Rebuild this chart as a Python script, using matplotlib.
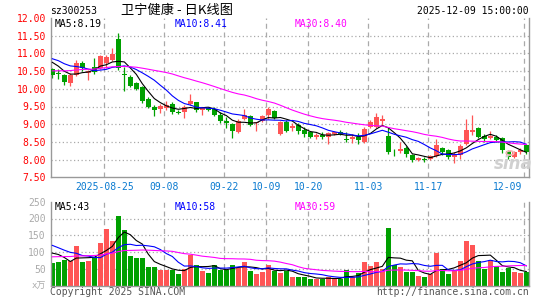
import numpy as np
import pandas as pd
import matplotlib
matplotlib.use("Agg")
import matplotlib.pyplot as plt
import matplotlib.transforms as mtransforms

# --- DATA (80 sessions 2025-08-12 .. 2025-12-09) ---
opens = [10.56, 10.45, 10.39, 10.15, 10.39, 10.72, 10.46, 10.62, 10.58, 10.72,
         10.81, 11.42, 10.42, 10.34, 10.15, 10.06, 9.71, 9.50, 9.44, 9.47,
         9.58, 9.35, 9.34, 9.56, 9.62, 9.39, 9.46, 9.43, 9.26, 9.08,
         9.00, 8.77, 9.15, 9.22, 9.04, 9.10, 9.26, 9.36, 8.71, 9.06,
         8.89, 8.98, 8.84, 8.77, 8.65, 8.70, 8.63, 8.73, 8.79, 8.59,
         8.58, 8.65, 8.49, 8.92, 8.92, 9.10, 8.68, 8.20, 8.23, 8.32,
         8.14, 8.00, 8.03, 8.03, 8.10, 8.33, 8.26, 8.08, 8.12, 8.45,
         8.78, 8.88, 8.67, 8.62, 8.64, 8.60, 8.24, 8.08, 8.22, 8.40]
highs = [10.60, 10.57, 10.42, 10.44, 10.80, 10.78, 10.53, 10.86, 10.95, 10.95,
         11.14, 11.59, 10.62, 10.38, 10.20, 10.09, 9.78, 9.55, 9.56, 9.66,
         9.62, 9.40, 9.53, 9.86, 9.64, 9.49, 9.50, 9.48, 9.34, 9.20,
         9.02, 9.15, 9.42, 9.25, 9.07, 9.25, 9.50, 9.41, 9.10, 9.11,
         9.03, 9.03, 8.91, 8.82, 8.74, 8.77, 8.79, 8.80, 8.84, 8.77,
         8.73, 8.74, 8.92, 9.12, 9.31, 9.27, 8.91, 8.30, 8.50, 8.38,
         8.17, 8.08, 8.08, 8.13, 8.59, 8.36, 8.29, 8.21, 8.43, 9.14,
         9.27, 8.93, 8.71, 8.80, 8.69, 8.65, 8.27, 8.25, 8.33, 8.45]
lows = [10.31, 10.29, 10.10, 10.07, 10.35, 10.50, 10.25, 10.43, 10.55, 10.58,
        10.78, 10.53, 9.93, 10.05, 9.97, 9.59, 9.46, 9.24, 9.31, 9.40,
        9.30, 9.28, 9.17, 9.53, 9.34, 9.25, 9.37, 9.22, 9.04, 8.89,
        8.60, 8.75, 9.12, 8.96, 8.82, 9.05, 9.15, 9.15, 8.69, 8.78,
        8.82, 8.73, 8.63, 8.61, 8.59, 8.59, 8.44, 8.70, 8.70, 8.49,
        8.47, 8.45, 8.47, 8.90, 8.90, 8.99, 8.16, 8.11, 8.20, 8.08,
        7.93, 7.97, 7.93, 7.98, 8.07, 8.13, 8.03, 7.89, 8.03, 8.40,
        8.70, 8.60, 8.50, 8.58, 8.50, 8.20, 8.03, 8.04, 8.15, 8.17]
closes = [10.39, 10.41, 10.18, 10.39, 10.72, 10.58, 10.50, 10.48, 10.93, 10.91,
          10.97, 10.59, 10.40, 10.08, 10.00, 9.65, 9.50, 9.39, 9.51, 9.55,
          9.34, 9.32, 9.50, 9.65, 9.41, 9.45, 9.39, 9.26, 9.08, 9.04,
          8.80, 9.10, 9.25, 8.98, 9.06, 9.22, 9.43, 9.18, 9.06, 8.82,
          8.96, 8.82, 8.71, 8.65, 8.70, 8.63, 8.75, 8.77, 8.73, 8.56,
          8.65, 8.54, 8.87, 9.06, 9.20, 9.15, 8.21, 8.18, 8.29, 8.16,
          7.98, 8.05, 7.98, 8.10, 8.40, 8.22, 8.08, 8.14, 8.39, 8.83,
          8.83, 8.64, 8.59, 8.68, 8.56, 8.26, 8.07, 8.21, 8.28, 8.21]
volumes = [69, 72, 77, 75, 118, 72, 75, 82, 127, 168,
           133, 206, 165, 87, 81, 81, 55, 55, 46, 48,
           46, 35, 50, 92, 62, 44, 38, 62, 48, 46,
           63, 53, 72, 45, 36, 42, 63, 45, 38, 45,
           25, 25, 25, 19, 21, 21, 25, 21, 21, 46,
           25, 38, 70, 60, 70, 50, 171, 63, 56, 40,
           40, 28, 25, 35, 97, 51, 35, 48, 73, 134,
           120, 73, 51, 77, 58, 40, 53, 40, 38, 40]

# sessions before the window, estimated so the MA lines start where the chart shows them
prior_close = [10.30, 10.25, 10.20, 10.15, 10.20, 10.30, 10.35, 10.30, 10.25, 10.30,
               10.40, 10.35, 10.30, 10.40, 10.45, 10.40, 10.35, 10.40, 10.50, 10.55,
               10.95, 11.05, 11.00, 10.90, 10.85, 10.95, 10.90, 10.80, 10.70]
prior_volume = [60, 65, 75, 70, 62, 58, 66, 80, 72, 68,
                64, 70, 75, 66, 62, 70, 78, 72, 68, 79,
                142, 150, 140, 145, 138, 92, 122, 135, 67]

date_labels = ["2025-08-25", "09-08", "09-22", "10-09", "10-20", "11-03", "11-17", "12-09"]
date_index = [9, 19, 29, 36, 43, 53, 63, 79]

price_ticks = [7.5, 8.0, 8.5, 9.0, 9.5, 10.0, 10.5, 11.0, 11.5, 12.0]
vol_ticks = [50, 100, 150, 200, 250]

stock_code = "sz300253"
title = "卫宁健康 - 日K线图"
stamp = "2025-12-09 15:00:00"
price_ma_text = ["MA5:8.19", "MA10:8.41", "MA30:8.40"]
vol_ma_text = ["MA5:43", "MA10:58", "MA30:59"]

# --- STYLE ---
UP = "#ff5555"
DOWN = "#00a000"
MA_COLORS = ["black", "#0000ff", "#ff00ff"]
GRID = "#aaaaaa"
BORDER = "#999999"
MONO = "DejaVu Sans Mono"
W, H = 545, 300

plt.rcParams["font.family"] = [MONO, "Noto Sans CJK SC"]

n = len(closes)
x = np.arange(n)
o = np.array(opens)
c = np.array(closes)
up = c >= o
colors = np.where(up, UP, DOWN)

all_close = pd.Series(prior_close + closes)
all_vol = pd.Series(prior_volume + volumes)
price_ma = [all_close.rolling(k).mean().values[-n:] for k in (5, 10, 30)]
vol_ma = [all_vol.rolling(k).mean().values[-n:] for k in (5, 10, 30)]

fig = plt.figure(figsize=(W / 100, H / 100), dpi=100)
fig.patch.set_facecolor("white")

left, right = 50.7, 529.0
ax_k = fig.add_axes([left / W, 1 - 177.3 / H, (right - left) / W, (177.3 - 18) / H])
ax_v = fig.add_axes([left / W, 1 - 285.7 / H, (right - left) / W, (285.7 - 201.7) / H])

xlim = (-0.27, 79.45)
grid_x = [i - 0.33 for i in date_index]

for ax in (ax_k, ax_v):
    ax.set_xlim(*xlim)
    ax.set_facecolor("white")
    ax.spines["top"].set_visible(False)
    for s in ("left", "bottom", "right"):
        ax.spines[s].set_color(BORDER)
        ax.spines[s].set_linewidth(1.0)
    ax.set_xticks([])
    ax.tick_params(axis="y", length=0, pad=3.5)
    for gx in grid_x:
        ax.axvline(gx, color=GRID, lw=0.9, dashes=(4, 3), zorder=0)

# --- candlesticks ---
body_bottom = np.minimum(o, c)
body_h = np.maximum(np.abs(c - o), 0.012)
ax_k.vlines(x, lows, highs, colors=colors, lw=0.9, zorder=2)
ax_k.bar(x, body_h, bottom=body_bottom, width=0.75, color=colors, linewidth=0, zorder=3)
for ma, col in zip(price_ma, MA_COLORS):
    ax_k.plot(x, ma, color=col, lw=0.8, zorder=4)

ax_k.set_ylim(7.5, 12.0)
ax_k.set_yticks(price_ticks)
ax_k.set_yticklabels([f"{t:.2f}" for t in price_ticks], color="#ff0000", fontsize=7, family=MONO)
for t in price_ticks[1:-1]:
    ax_k.axhline(t, color=GRID, lw=0.9, linestyle=(0, (1, 2)), zorder=0)

trans = mtransforms.blended_transform_factory(ax_k.transData, ax_k.transAxes)
for gx, lab in zip(grid_x, date_labels):
    ha = "center"
    xx = gx
    if lab == date_labels[-1]:
        ha = "right"
        xx = 78.4
    ax_k.text(xx, -0.062, lab, transform=trans, ha=ha, va="center",
              color="#0a7ad0", fontsize=7, family=MONO)

# --- volume ---
ax_v.bar(x, volumes, width=0.88, color=colors, linewidth=0, zorder=2)
for ma, col in zip(vol_ma, MA_COLORS):
    ax_v.plot(x, ma, color=col, lw=0.8, zorder=4)
ax_v.set_ylim(0, 250)
ax_v.set_yticks(vol_ticks)
ax_v.set_yticklabels([str(t) for t in vol_ticks], color="#aaaaaa", fontsize=7, family=MONO)
for t in vol_ticks[:-1]:
    ax_v.axhline(t, color=GRID, lw=0.9, linestyle=(0, (1, 2)), zorder=0)

# --- texts ---
def ftext(px, py, s, **kw):
    fig.text(px / W, 1 - py / H, s, va="center", **kw)

ftext(50, 11, stock_code, fontsize=7, family=MONO, color="black")
ftext(177, 10.5, title, fontsize=9.5, ha="center", family=["Noto Sans CJK SC", "DejaVu Sans"], color="black")
ftext(529, 11, stamp, fontsize=7, family=MONO, ha="right", color="black")

for px, s, col in zip((55, 175, 295), price_ma_text, MA_COLORS):
    ftext(px, 24, s, fontsize=7, family=MONO, color=col)
for px, s, col in zip((55, 175, 295), vol_ma_text, MA_COLORS):
    ftext(px, 207, s, fontsize=7, family=MONO, color=col)

ftext(46, 286, "x万", fontsize=6.5, ha="right", family=[MONO, "Noto Sans CJK SC"], color="#aaaaaa")
ftext(50, 292, "Copyright 2025 SINA.COM", fontsize=7, family=MONO, color="#555555")
ftext(529, 292, "http://finance.sina.com.cn", fontsize=7, family=MONO, ha="right", color="#555555")

# sina watermark
ftext(513, 164, "sina", fontsize=12, ha="center", family="DejaVu Sans",
      style="italic", weight="bold", color="#d0d0d0")
fig.add_artist(plt.Circle((510 / W, 1 - 153 / H), 0.007, transform=fig.transFigure,
                          fill=False, ec="#f0b8b8", lw=1.2))

fig.savefig("out.png", dpi=100)
